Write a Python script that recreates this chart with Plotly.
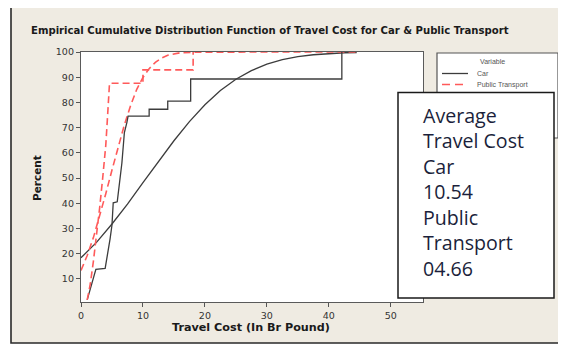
import plotly.graph_objects as go

# ---------------- data ----------------
car_ecdf_x = [1.0, 2.0, 2.4, 3.9, 4.2, 4.7, 5.0, 5.2, 5.85, 6.3, 6.6, 6.9, 7.0, 7.4, 7.6,
              11.0, 11.0, 14.0, 14.0, 17.7, 17.7, 42.1, 42.1]
car_ecdf_y = [1.7, 10.3, 13.8, 14.2, 18.2, 26.0, 31.4, 40.2, 40.6, 49.4, 56.0, 65.0, 68.0, 72.0, 74.6,
              74.6, 77.3, 77.3, 80.5, 80.5, 89.3, 89.3, 100.0]

pt_ecdf_x = [1.0, 1.5, 2.0, 2.5, 3.0, 3.5, 4.0, 4.3, 4.5, 4.6, 10.0, 10.0, 18.1, 18.1]
pt_ecdf_y = [1.7, 8.0, 17.0, 27.0, 38.0, 50.0, 63.0, 75.0, 85.0, 87.6, 87.6, 92.9, 92.9, 100.0]

car_fit_x = [0, 2.5, 5, 7.5, 10, 12.5, 15, 17.5, 20, 22.5, 25, 27.5, 30, 32.5, 35, 37.5, 40, 42.5, 44.5]
car_fit_y = [18.4, 24.5, 31.8, 39.7, 48.2, 56.6, 64.8, 72.4, 79.1, 84.7, 89.2, 92.6, 95.2, 97.0,
             98.2, 98.9, 99.4, 99.7, 99.8]

pt_fit_x = [0, 1, 2, 3, 4, 5, 6, 7, 8, 9, 10, 11, 12, 13, 14, 16, 18, 22, 30, 44.5]
pt_fit_y = [13.4, 19.3, 26.4, 34.6, 43.8, 53.2, 62.5, 71.1, 78.7, 85.2, 89.9, 93.4, 95.9, 97.6,
            98.7, 99.7, 99.9, 100, 100, 100]

x_ticks = [0, 10, 20, 30, 40, 50]
y_ticks = [10, 20, 30, 40, 50, 60, 70, 80, 90, 100]

series_names = ["Car", "Public Transport"]
info_lines = ["Average", "Travel Cost", "Car", "10.54", "Public", "Transport", "04.66"]

title_text = "Empirical Cumulative Distribution Function of Travel Cost for Car & Public Transport"
x_title = "Travel Cost (In Br Pound)"
y_title = "Percent"

# ---------------- styling ----------------
OFF = 8                      # the page body adds an 8px margin
W, H = 566 - OFF, 351 - OFF
# plot area in reference-picture pixels
RL, RR, RT, RB = 81, 423, 52, 302
L, R, T, B = RL - OFF, RR - OFF, RT - OFF, RB - OFF
CAR_COLOR = "#3c3c3c"
PT_COLOR = "#ff5a5a"
PT_DASH = "7px,4px"


def px(xp):
    """reference-picture x pixel -> paper coordinate"""
    return (xp - RL) / (RR - RL)


def py(yp):
    """reference-picture y pixel -> paper coordinate"""
    return (RB - yp) / (RB - RT)


fig = go.Figure()

fig.add_trace(go.Scatter(x=car_fit_x, y=car_fit_y, mode="lines", name="Car fit",
                         line=dict(color=CAR_COLOR, width=1.3), showlegend=False))
fig.add_trace(go.Scatter(x=pt_fit_x, y=pt_fit_y, mode="lines", name="Public Transport fit",
                         line=dict(color=PT_COLOR, width=1.6, dash=PT_DASH), showlegend=False))
fig.add_trace(go.Scatter(x=car_ecdf_x, y=car_ecdf_y, mode="lines", name=series_names[0],
                         line=dict(color=CAR_COLOR, width=1.3), showlegend=False))
fig.add_trace(go.Scatter(x=pt_ecdf_x, y=pt_ecdf_y, mode="lines", name=series_names[1],
                         line=dict(color=PT_COLOR, width=1.6, dash=PT_DASH), showlegend=False))

shapes = []
# outer beige frame
shapes.append(dict(type="rect", xref="paper", yref="paper", layer="below",
                   x0=px(11), x1=px(561), y0=py(7), y1=py(343),
                   fillcolor="#efebe2", line=dict(color="#2a2a2a", width=1.6)))
# white data region
shapes.append(dict(type="rect", xref="paper", yref="paper", layer="below",
                   x0=0, x1=1, y0=0, y1=1, fillcolor="white", line=dict(width=0)))
# legend box
shapes.append(dict(type="rect", xref="paper", yref="paper", layer="above",
                   x0=px(437), x1=px(558), y0=py(53), y1=py(138),
                   fillcolor="white", line=dict(color="#555555", width=1.2)))
shapes.append(dict(type="line", xref="paper", yref="paper", layer="above",
                   x0=px(442), x1=px(468), y0=py(73.5), y1=py(73.5),
                   line=dict(color=CAR_COLOR, width=1.3)))
shapes.append(dict(type="line", xref="paper", yref="paper", layer="above",
                   x0=px(442), x1=px(468), y0=py(84.5), y1=py(84.5),
                   line=dict(color=PT_COLOR, width=1.6, dash="8px,5px")))
# info text box
shapes.append(dict(type="rect", xref="paper", yref="paper", layer="above",
                   x0=px(398), x1=px(554), y0=py(92.5), y1=py(298),
                   fillcolor="white", line=dict(color="#1a1a1a", width=1.5)))
fig.update_layout(shapes=shapes)

BOLD_FONT = "DejaVu Sans"
ann = []
ann.append(dict(text=f"<b>{title_text}</b>", x=px(270), y=py(31), xref="paper", yref="paper",
                showarrow=False, xanchor="center", yanchor="middle",
                font=dict(family=BOLD_FONT, size=10.1, color="#1a1a1a")))
ann.append(dict(text=f"<b>{x_title}</b>", x=px(251), y=py(327), xref="paper", yref="paper",
                showarrow=False, xanchor="center", yanchor="middle",
                font=dict(family=BOLD_FONT, size=11.2, color="#1a1a1a")))
ann.append(dict(text=f"<b>{y_title}</b>", x=px(37), y=py(178), xref="paper", yref="paper",
                showarrow=False, xanchor="center", yanchor="middle", textangle=-90,
                font=dict(family=BOLD_FONT, size=10.5, color="#1a1a1a")))
# legend texts
ann.append(dict(text="Variable", x=px(492), y=py(61.5), xref="paper", yref="paper",
                showarrow=False, xanchor="center", yanchor="middle",
                font=dict(family="Liberation Sans", size=7, color="#555555")))
ann.append(dict(text=series_names[0], x=px(475), y=py(73.5), xref="paper", yref="paper",
                showarrow=False, xanchor="left", yanchor="middle",
                font=dict(family="Liberation Sans", size=7, color="#555555")))
ann.append(dict(text=series_names[1], x=px(475), y=py(84.5), xref="paper", yref="paper",
                showarrow=False, xanchor="left", yanchor="middle",
                font=dict(family="Liberation Sans", size=7, color="#555555")))
# info text (one multi-line block)
ann.append(dict(text="<br>".join(info_lines), x=px(421), y=py(191.5), xref="paper", yref="paper",
                showarrow=False, xanchor="left", yanchor="middle", align="left",
                font=dict(family="Open Sans", size=19.6, color="#1b1f3b")))
fig.update_layout(annotations=ann)

axis_common = dict(showgrid=False, zeroline=False, showline=True, mirror=True,
                   linecolor="#5a5a5a", linewidth=1.3, ticks="outside", ticklen=4,
                   tickcolor="#555555", tickwidth=1,
                   tickfont=dict(family="DejaVu Sans", size=9.5, color="#333333"))
fig.update_xaxes(range=[0, 55.2], tickvals=x_ticks, **axis_common)
fig.update_yaxes(range=[0.87, 100], tickvals=y_ticks, **axis_common)

fig.update_layout(width=W, height=H, margin=dict(l=L, r=W - R, t=T, b=H - B),
                  paper_bgcolor="white", plot_bgcolor="white", showlegend=False)

fig.write_html("out.html")
